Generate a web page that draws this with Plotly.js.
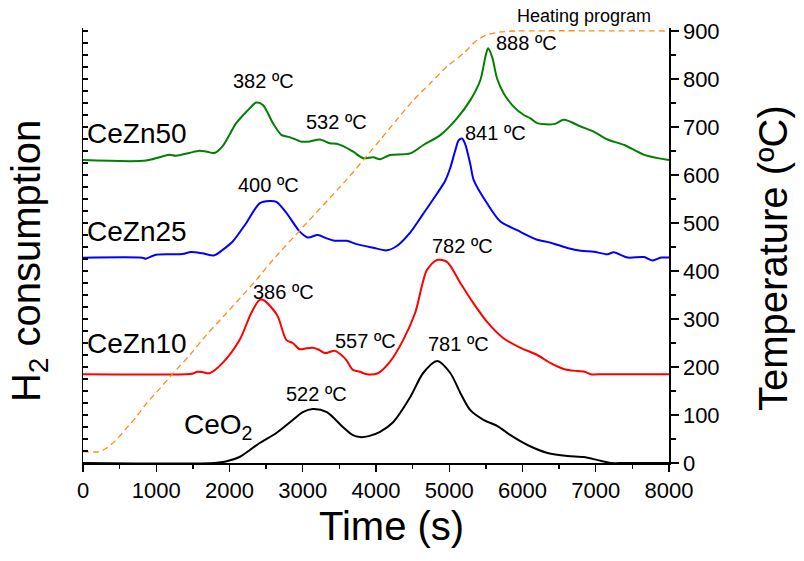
<!DOCTYPE html>
<html>
<head>
<meta charset="utf-8">
<script src="https://cdn.plot.ly/plotly-3.0.1.min.js"></script>
<style>html,body{margin:0;padding:0;background:#fff;}#chart{width:804px;height:561px;}</style>
</head>
<body>
<div id="chart"></div>
<script>
// Time (s) and H2 signal (offset, in temperature-equivalent units)
const tCeO2 = [0, 1800, 1950, 2137, 2411, 2640, 2863, 3000, 3137, 3329, 3548, 3685, 3781, 3900, 4055, 4233, 4466, 4644, 4836, 5014, 5151, 5288, 5466, 5658, 5836, 6068, 6342, 6616, 6836, 7027, 7205, 7400, 8000];
const vCeO2 = [0, 0, 3, 12.5, 41.7, 62.5, 89.6, 106, 112.5, 106, 75, 58, 54, 56, 65, 85, 137, 187.5, 212.5, 187.5, 146, 110, 90, 77, 58, 37.5, 21, 14.6, 12.5, 6, 0, 0, 0];

const tZn10 = [0, 1407, 1490, 1562, 1640, 1726, 1904, 2137, 2297, 2411, 2479, 2560, 2658, 2777, 2863, 2959, 3050, 3137, 3220, 3301, 3438, 3520, 3598, 3685, 3781, 3873, 4027, 4192, 4370, 4534, 4695, 4832, 4969, 5151, 5329, 5516, 5740, 5973, 6201, 6384, 6562, 6749, 6850, 6932, 7100, 8000];
const vZn10 = [185, 185, 186, 190, 189, 187, 208, 256, 312.5, 340, 338, 326, 306, 256, 250, 237, 239, 240, 236, 229, 233.6, 226, 214, 194, 190, 185, 187, 211, 256, 312.5, 402, 423, 419, 375, 333, 294, 260, 240, 225, 208, 196, 191.5, 190, 185, 185, 185];

const tZn25 = [0, 808, 859, 996, 1356, 1475, 1630, 1795, 1904, 2041, 2229, 2411, 2548, 2640, 2777, 2959, 3068, 3205, 3325, 3438, 3598, 3736, 3959, 4146, 4284, 4466, 4644, 4832, 4945, 5014, 5080, 5128, 5174, 5219, 5288, 5333, 5516, 5699, 5927, 6201, 6384, 6612, 6795, 6973, 7160, 7247, 7434, 7658, 7777, 7890, 8000];
const vZn25 = [427.7, 427.7, 425.6, 434, 435.4, 439.6, 436.9, 432.7, 443.75, 461, 500, 541, 546, 544, 521, 482, 470, 475, 468, 463, 463, 456, 448.6, 443, 452, 480, 519, 561, 588, 615, 650, 672, 676, 664, 622, 590, 541, 503, 485, 465, 459, 448, 442, 440, 435, 439, 428, 429, 422, 428, 428];

const tZn50 = [0, 859, 1041, 1178, 1270, 1452, 1589, 1681, 1795, 1904, 2092, 2251, 2366, 2456, 2593, 2708, 2822, 2982, 3100, 3233, 3370, 3462, 3552, 3689, 3826, 3963, 4055, 4192, 4466, 4648, 4877, 5105, 5288, 5425, 5493, 5530, 5585, 5653, 5744, 5881, 6018, 6110, 6201, 6429, 6566, 6795, 6977, 7160, 7388, 7662, 8000];
const vZn50 = [631, 630, 637, 642, 640, 646, 650.6, 649, 646, 659.7, 708, 735, 751, 746, 708, 683.6, 679, 669.4, 670, 674, 666, 665, 660, 648.5, 635, 637, 632.7, 641.7, 645, 662.5, 683, 718, 756, 798, 846, 864, 846, 801, 770, 742, 725, 718, 708, 706, 715, 701, 690, 674, 662.5, 642, 631];

// Heating program (temperature, ºC)
const tHeat = [0, 225, 317, 454, 591, 728, 865, 1048, 1230, 1458, 1686, 1914, 2142, 2370, 2597, 3597, 3826, 4055, 4283, 4511, 4740, 4968, 5196, 5379, 5516, 5699, 5900, 8000];
const vHeat = [23.5, 23.5, 30.6, 48, 72, 96, 124, 155, 187, 225, 267, 305, 343, 382, 424, 590, 631, 673, 715, 756, 791, 826, 853.5, 881, 892, 898, 900, 900];

// Labels
const seriesNames = ["CeZn50", "CeZn25", "CeZn10", "CeO<sub>2</sub>"];
const seriesLabelT = [34, 34, 34, 1354];
const seriesLabelV = [687, 482, 250, 77];
const peakTexts = ["382 ºC", "532 ºC", "888 ºC", "400 ºC", "841 ºC", "386 ºC", "557 ºC", "782 ºC", "781 ºC", "522 ºC"];
const peakT = [2464, 3461, 6061, 2532, 5638, 2733, 3860, 5174, 5126, 3181];
const peakV = [796, 710, 875, 579, 687, 357, 254, 453, 247, 143];

const FONT = "Liberation Sans, Arial, Helvetica, sans-serif";

function curve(x, y, color) {
  return {x: x, y: y, type: 'scatter', mode: 'lines', yaxis: 'y',
          line: {color: color, width: 2, shape: 'spline', smoothing: 0.8},
          hoverinfo: 'skip'};
}

const traces = [
  curve(tCeO2, vCeO2, '#000000'),
  curve(tZn10, vZn10, '#ff0000'),
  curve(tZn25, vZn25, '#0000ff'),
  curve(tZn50, vZn50, '#008000'),
  {x: tHeat, y: vHeat, type: 'scatter', mode: 'lines', yaxis: 'y2',
   line: {color: '#ff8c1a', width: 1.3, dash: '6px,4px', shape: 'spline', smoothing: 0.6},
   hoverinfo: 'skip'}
];

const annotations = [];
for (let i = 0; i < seriesNames.length; i++) {
  annotations.push({x: seriesLabelT[i], y: seriesLabelV[i], xref: 'x', yref: 'y',
    text: seriesNames[i], showarrow: false, xanchor: 'left', yanchor: 'middle',
    font: {family: FONT, size: 28, color: '#000'}});
}
for (let i = 0; i < peakTexts.length; i++) {
  annotations.push({x: peakT[i], y: peakV[i], xref: 'x', yref: 'y',
    text: peakTexts[i], showarrow: false, xanchor: 'center', yanchor: 'middle',
    font: {family: FONT, size: 20, color: '#000'}});
}
annotations.push({x: 0.8558, y: 1.0287, xref: 'paper', yref: 'paper', text: 'Heating program',
  showarrow: false, xanchor: 'center', yanchor: 'middle',
  font: {family: FONT, size: 18, color: '#000'}});
// axis titles
annotations.push({x: -0.093, y: 0.463, xref: 'paper', yref: 'paper', text: 'H<sub>2</sub> consumption',
  textangle: -90, showarrow: false, xanchor: 'center', yanchor: 'middle',
  font: {family: FONT, size: 40, color: '#000'}});
annotations.push({x: 1.1766, y: 0.4724, xref: 'paper', yref: 'paper', text: 'Temperature (ºC)',
  textangle: -90, showarrow: false, xanchor: 'center', yanchor: 'middle',
  font: {family: FONT, size: 40, color: '#000'}});
annotations.push({x: 0.5265, y: -0.145, xref: 'paper', yref: 'paper', text: 'Time (s)',
  showarrow: false, xanchor: 'center', yanchor: 'middle',
  font: {family: FONT, size: 40, color: '#000'}});

const layout = {
  width: 804, height: 561,
  margin: {l: 83, r: 135, t: 28, b: 98, pad: 0},
  paper_bgcolor: '#fff', plot_bgcolor: '#fff',
  showlegend: false, hovermode: false,
  font: {family: FONT, size: 22, color: '#000'},
  xaxis: {range: [0, 8000], dtick: 1000, tick0: 0, showgrid: false, zeroline: false,
          showline: true, linecolor: '#000', linewidth: 1.5,
          ticks: 'outside', ticklen: 7, tickwidth: 1.3, tickcolor: '#000',
          minor: {dtick: 500, ticks: 'outside', ticklen: 4, tickwidth: 1.3, tickcolor: '#000'},
          tickfont: {family: FONT, size: 22, color: '#000'}},
  yaxis: {range: [0, 906.25], showgrid: false, zeroline: false, showticklabels: false,
          showline: true, linecolor: '#000', linewidth: 1.5,
          ticks: 'inside', dtick: 25, tick0: 0, ticklen: 5, tickwidth: 1.3, tickcolor: '#000'},
  yaxis2: {range: [0, 906.25], overlaying: 'y', side: 'right', showgrid: false, zeroline: false,
           showline: true, linecolor: '#000', linewidth: 1.5,
           ticks: 'outside', dtick: 100, tick0: 0, ticklen: 8, tickwidth: 1.3, tickcolor: '#000',
           minor: {dtick: 50, ticks: 'outside', ticklen: 5, tickwidth: 1.3, tickcolor: '#000'},
           tickfont: {family: FONT, size: 22, color: '#000'}},
  annotations: annotations
};

Plotly.newPlot('chart', traces, layout, {staticPlot: true, displayModeBar: false});
</script>
</body>
</html>
